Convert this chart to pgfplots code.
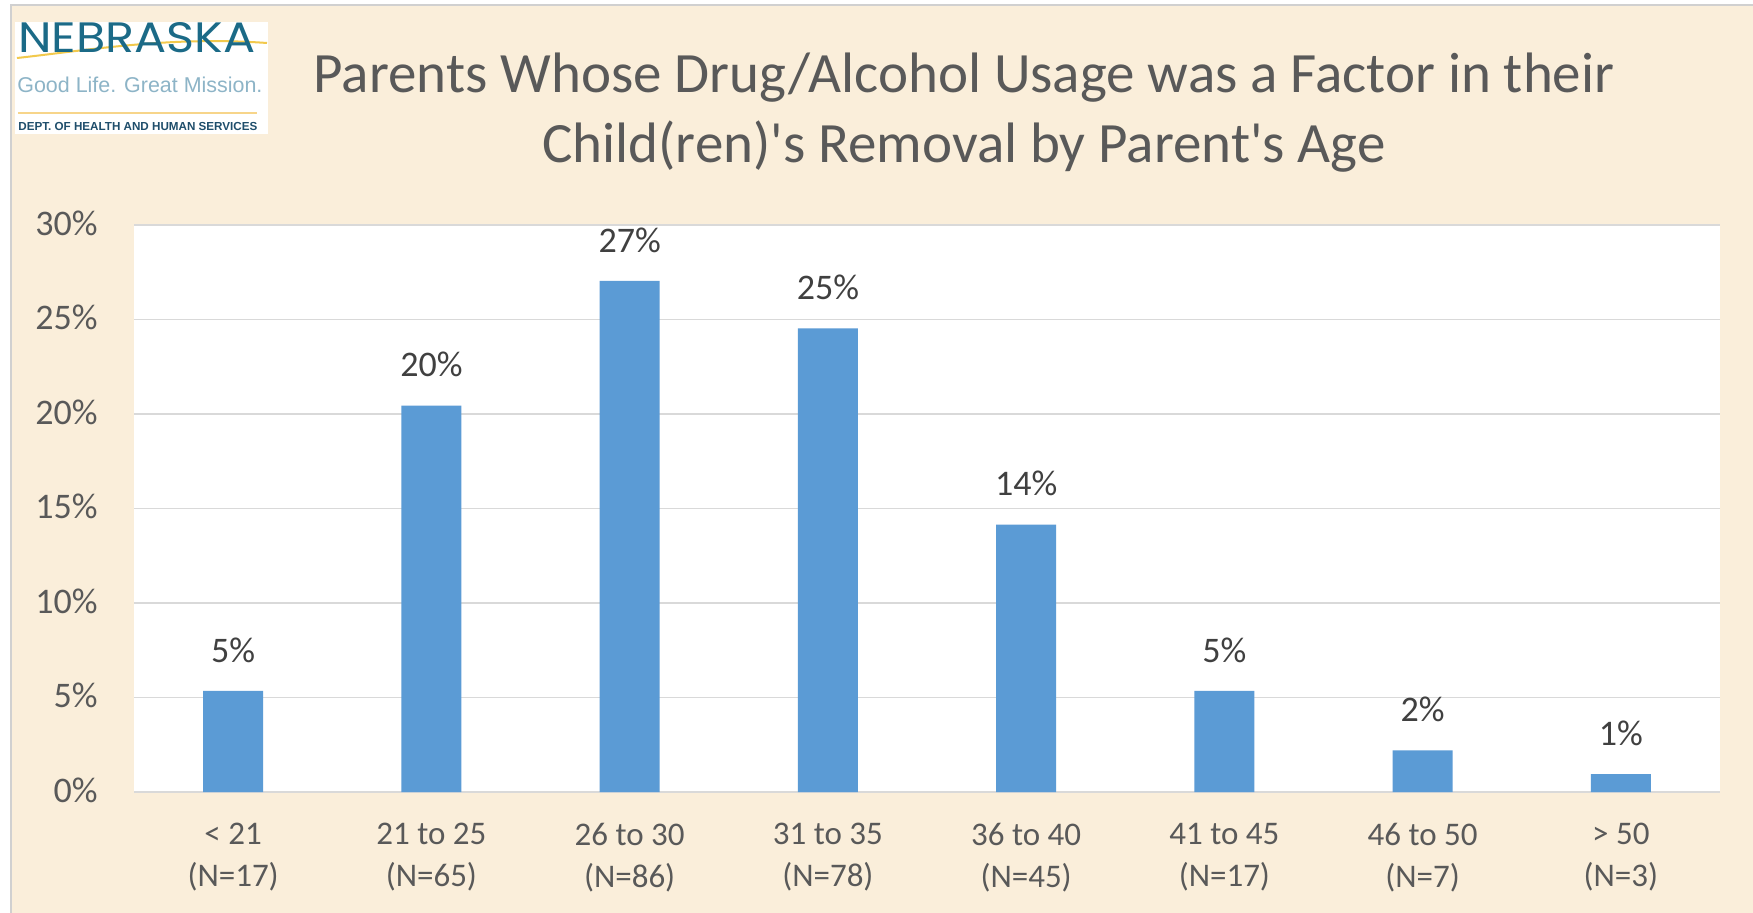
\documentclass[border=0pt]{standalone}
\usepackage{fontspec}
\setmainfont{Carlito}
\newfontfamily\titlefont{Carlito}[Ligatures=TeXOff]
\newfontfamily\poppins{Poppins}
\newfontfamily\lsans{Liberation Sans}
\usepackage{pgfplots}
\pgfplotsset{compat=1.18}
\definecolor{bg}{HTML}{FAEEDA}
\definecolor{barblue}{HTML}{5B9BD5}
\definecolor{txt}{HTML}{595959}
\definecolor{lbl}{HTML}{404040}
\definecolor{gridc}{HTML}{D9D9D9}
\definecolor{teal}{HTML}{1B6A87}
\definecolor{lteal}{HTML}{8DB4C7}
\definecolor{gold}{HTML}{F2C94C}
\definecolor{lgold}{HTML}{F7D58A}
\definecolor{dteal}{HTML}{1F4E6B}
\definecolor{framec}{HTML}{D0D0D0}
\begin{document}
\begin{tikzpicture}
\useasboundingbox (0,0) rectangle (876.5bp,-456.5bp);
\fill[white] (0,0) rectangle (876.5bp,-456.5bp);
\fill[bg] (5.5bp,-2.5bp) rectangle (876.5bp,-456.5bp);
\draw[framec,line width=1.2bp] (5.5bp,-456.5bp) -- (5.5bp,-2.5bp) -- (876.5bp,-2.5bp);
\begin{scope}[x=0.5bp,y=-0.5bp]
  \fill[white] (15,22) rectangle (268,134);
  \draw[gold,line width=1bp] (17,58) .. controls (90,50) and (170,36) .. (267,43);
  \node[anchor=base west,inner sep=0pt,text=teal] at (18,53) {\resizebox{118.5bp}{15bp}{\poppins NEBRASKA}};
  \node[anchor=base west,inner sep=0pt,text=lteal] at (17,93) {\resizebox{122.5bp}{!}{\lsans Good Life. Great Mission.}};
  \draw[lgold,line width=1bp] (18,113) -- (257,113);
  \node[anchor=base west,inner sep=0pt,text=dteal] at (18,131) {\resizebox{119.5bp}{!}{\lsans\bfseries DEPT. OF HEALTH AND HUMAN SERVICES}};
\end{scope}
\node[anchor=base,inner sep=0pt,text=txt,font=\titlefont\fontsize{28.5bp}{35bp}\selectfont] at (482bp,-46bp) {Parents Whose Drug/Alcohol Usage was a Factor in their};
\node[anchor=base,inner sep=0pt,text=txt,font=\titlefont\fontsize{28.5bp}{35bp}\selectfont] at (482bp,-81bp) {Child(ren)'s Removal by Parent's Age};
\begin{axis}[
  at={(67bp,-396bp)}, anchor=south west,
  width=793bp, height=283.5bp, scale only axis,
  xmin=-0.5, xmax=7.5, ymin=0, ymax=30,
  axis background/.style={fill=white},
  axis line style={draw=none},
  tick style={draw=none},
  ymajorgrids, grid style={draw=gridc, line width=0.8bp},
  ytick={0,5,10,15,20,25,30},
  yticklabels={0\%,5\%,10\%,15\%,20\%,25\%,30\%},
  yticklabel style={anchor=east, inner sep=0pt, xshift=-18bp, yshift=1bp, text=txt, font=\fontsize{18bp}{21bp}\selectfont},
  xtick={0,1,2,3,4,5,6,7},
  xticklabels={{< 21\\(N=17)},{21 to 25\\(N=65)},{26 to 30\\(N=86)},{31 to 35\\(N=78)},{36 to 40\\(N=45)},{41 to 45\\(N=17)},{46 to 50\\(N=7)},{> 50\\(N=3)}},
  xticklabel style={align=center, anchor=north, inner sep=0pt, yshift=-11bp, text=txt, font=\fontsize{16.5bp}{21bp}\selectfont},
  ybar, bar width=30bp,
  point meta=explicit symbolic,
  nodes near coords,
  nodes near coords style={anchor=south, inner sep=0pt, yshift=14bp, text=lbl, font=\fontsize{18bp}{21bp}\selectfont},
]
\addplot[fill=barblue, draw=none] coordinates {(0,5.35) [5\%] (1,20.44) [20\%] (2,27.04) [27\%] (3,24.53) [25\%] (4,14.15) [14\%] (5,5.35) [5\%] (6,2.20) [2\%] (7,0.94) [1\%]};
\end{axis}
\end{tikzpicture}
\end{document}
